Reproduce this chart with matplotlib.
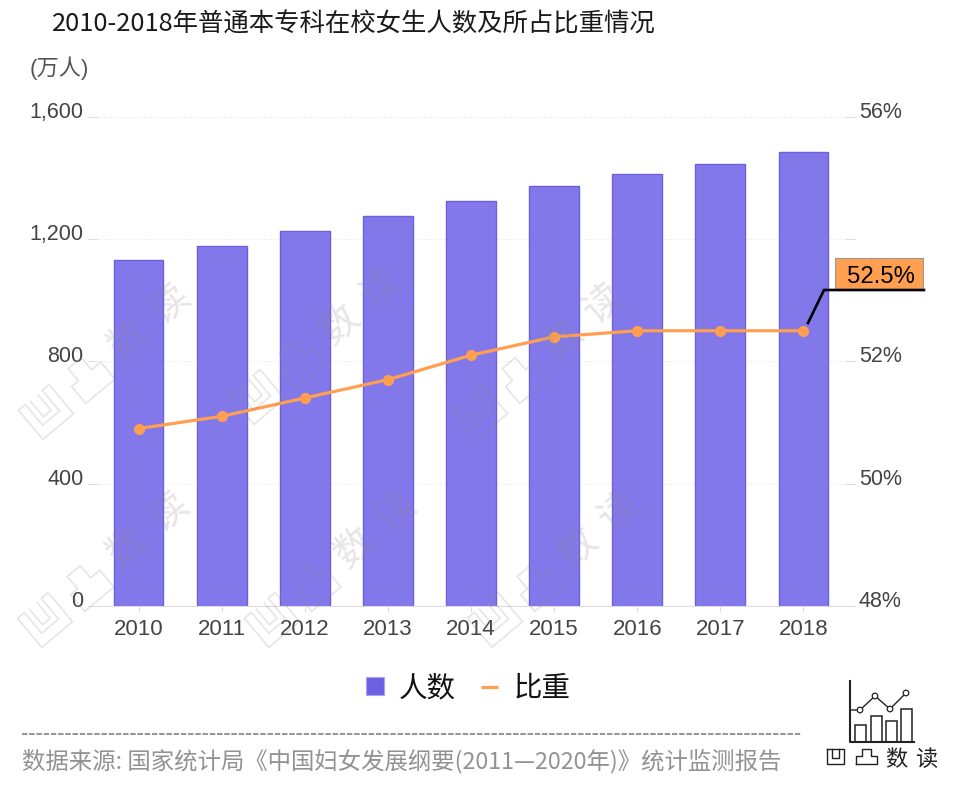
import numpy as np
import matplotlib
matplotlib.use('Agg')
import matplotlib.pyplot as plt
from matplotlib.patches import Rectangle, Polygon, Circle
from matplotlib.transforms import Affine2D

plt.rcParams['font.family'] = ['Liberation Sans', 'Noto Sans CJK SC', 'DejaVu Sans']
CJK = ['Noto Sans CJK SC', 'DejaVu Sans']

years = ['2010', '2011', '2012', '2013', '2014', '2015', '2016', '2017', '2018']
students = [1132, 1178, 1227, 1276, 1325, 1374, 1413, 1446, 1485]
ratio = [50.9, 51.1, 51.4, 51.7, 52.1, 52.4, 52.5, 52.5, 52.5]
left_ticks = [0, 400, 800, 1200, 1600]
left_labels = ['0', '400', '800', '1,200', '1,600']
right_ticks = [48, 50, 52, 54, 56]
right_labels = ['48%', '50%', '52%', '', '56%']

title = '2010-2018年普通本专科在校女生人数及所占比重情况'
source = '数据来源: 国家统计局《中国妇女发展纲要(2011—2020年)》统计监测报告'

W, H = 960, 804
BAR = '#8378EA'
BAR_EDGE = '#6C5FE0'
ORANGE = '#FF9F4F'
TICK_TXT = '#444444'

fig = plt.figure(figsize=(W / 100, H / 100), dpi=100)
ax = fig.add_axes([97 / W, (H - 606.8) / H, 748 / W, 489 / H])
x = np.arange(len(years))

ax.bar(x, students, width=0.6, color=BAR, edgecolor=BAR_EDGE, linewidth=1, zorder=2)
ax.set_xlim(-0.5, len(years) - 0.5)
ax.set_ylim(0, 1600)
ax.set_xticks(x)
ax.set_xticklabels(years)
ax.set_yticks(left_ticks)
ax.set_yticklabels(left_labels)
ax.yaxis.grid(True, linestyle=(0, (1, 2)), color='#e6e6e6', linewidth=0.8, zorder=0)
ax.set_axisbelow(True)
for s in ['top', 'left', 'right']:
    ax.spines[s].set_visible(False)
ax.spines['bottom'].set_color('#dddddd')
ax.tick_params(axis='y', length=6.5, width=0.8, color='#dddddd', labelsize=15.5, labelcolor=TICK_TXT, pad=3.3)
ax.tick_params(axis='x', length=4.5, width=0.8, color='#dddddd', labelsize=16, labelcolor=TICK_TXT, pad=4.5)
for lab in ax.get_yticklabels():
    lab.set_verticalalignment('baseline')

ax2 = ax.twinx()
ax2.plot(x, ratio, color=ORANGE, linewidth=2.3, marker='o', markersize=7, zorder=3)
ax2.set_ylim(48, 56)
ax2.set_yticks(right_ticks)
ax2.set_yticklabels(right_labels)
for s in ['top', 'left', 'right', 'bottom']:
    ax2.spines[s].set_visible(False)
ax2.tick_params(axis='y', length=7, width=0.8, color='#dddddd', labelsize=15.5, labelcolor=TICK_TXT, pad=3)
for lab in ax2.get_yticklabels():
    lab.set_verticalalignment('baseline')

# overlay in pixel coordinates for the furniture around the chart
ov = fig.add_axes([0, 0, 1, 1], zorder=5)
ov.set_xlim(0, W)
ov.set_ylim(H - 1, -1)
ov.axis('off')
ov.patch.set_alpha(0)


def watermark(cx, cy):
    rot = Affine2D().rotate_deg_around(0, 0, -40).translate(cx, cy) + ov.transData
    wm = dict(fill=False, edgecolor='#8c8c8c', alpha=0.22, linewidth=1.2, transform=rot)
    ao = [(-20, -19), (-11, -19), (-11, 8), (11, 8), (11, -19), (20, -19), (20, 19), (-20, 19)]
    ao_in = [(-5, -19), (-5, 2), (5, 2), (5, -19)]
    tu = [(36, 19), (36, -3), (45, -3), (45, -19), (62, -19), (62, -3), (74, -3), (74, 19)]
    ov.add_patch(Polygon(ao, closed=True, **wm))
    ov.add_patch(Polygon(ao_in, closed=False, **wm))
    ov.add_patch(Polygon(tu, closed=True, **wm))
    for txt, dist in [('数', 110), ('读', 165)]:
        a = np.deg2rad(41)
        ov.text(cx + dist * np.cos(a), cy - dist * np.sin(a), txt, family=CJK, weight='light',
                fontsize=28, color='#8c8c8c', alpha=0.22, rotation=40,
                ha='center', va='center', rotation_mode='anchor')


for wx, wy in [(46, 412), (257, 397), (480, 412), (45, 620), (272, 620), (495, 620)]:
    watermark(wx, wy)

# callout on the last point
ov.add_patch(Rectangle((835, 258), 88, 32, facecolor=ORANGE, edgecolor='#999999', linewidth=0.8))
ov.text(881, 276.5, '%.1f%%' % ratio[-1], fontsize=17.2, color='black', ha='center', va='center')
ov.plot([808, 824, 924], [323, 290, 290], color='black', linewidth=1.9, solid_joinstyle='miter')

ov.text(52, 24, title, family=CJK, fontsize=18.3, weight='medium', color='#1a1a1a', ha='left', va='center')
ov.text(30, 67, '(万人)', fontsize=16, color='#555555', ha='left', va='center')

# legend
ov.add_patch(Rectangle((366, 677), 18, 18, facecolor='#6C60E4', edgecolor='#A9A2F0', linewidth=0.8))
ov.text(399, 687, '人数', family=CJK, weight='light', fontsize=20.5, color='#111111', ha='left', va='center')
ov.plot([481, 498], [687, 687], color=ORANGE, linewidth=2.3, solid_capstyle='butt')
ov.text(514, 687, '比重', family=CJK, weight='light', fontsize=20.5, color='#111111', ha='left', va='center')

# source
ov.plot([22, 802], [734, 734], color='#8a8a8a', linewidth=1.3, linestyle=(0, (3, 1)))
ov.text(22, 760, source, family=CJK, fontsize=16.87, color='#929292', ha='left', va='center')

# logo
lc = '#222222'
ov.plot([850, 850, 914], [681, 742, 742], color=lc, linewidth=1.5)
for bx, by in [(855, 725), (871, 716), (886, 721), (901, 709)]:
    ov.add_patch(Rectangle((bx, by), 11, 742 - by, fill=False, edgecolor=lc, linewidth=1.1))
lx = [860, 875, 890, 906]
ly = [710, 696, 709, 693]
ov.plot([850] + lx, [710] + ly, color=lc, linewidth=1)
for px, py in zip(lx, ly):
    ov.add_patch(Circle((px, py), 2.8, facecolor='white', edgecolor=lc, linewidth=0.9, zorder=4))
ov.plot([827, 827, 844, 844, 827], [749, 764, 764, 749, 749], color=lc, linewidth=1)
ov.plot([832, 832, 839, 839], [749, 758, 758, 749], color=lc, linewidth=1)
ov.plot([856, 856, 862, 862, 871, 871, 877, 877, 856], [764, 756, 756, 749, 749, 756, 756, 764, 764], color=lc, linewidth=1)
ov.text(896, 759, '数', family=CJK, weight='light', fontsize=16, color=lc, ha='center', va='center')
ov.text(926, 759, '读', family=CJK, weight='light', fontsize=16, color=lc, ha='center', va='center')

fig.savefig('out.png', dpi=100)
